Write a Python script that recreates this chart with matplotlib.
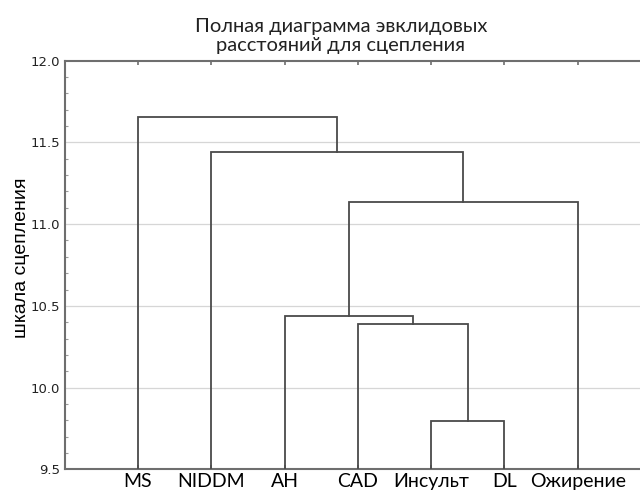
"""Dendrogram: complete linkage, Euclidean distances (reproduction)."""

import matplotlib

matplotlib.use("Agg")
import matplotlib.pyplot as plt
import numpy as np

LEAVES = ["MS", "NIDDM", "AH", "CAD", "Инсульт", "DL", "Ожирение"]
# merges in scipy-style: (left id, right id, height); ids >= len(LEAVES) are clusters
MERGE_LEFT = [4, 3, 2, 9, 1, 0]
MERGE_RIGHT = [5, 7, 8, 6, 10, 11]
MERGE_HEIGHT = [9.797, 10.391, 10.439, 11.135, 11.443, 11.657]
Y_TICKS = [9.5, 10.0, 10.5, 11.0, 11.5, 12.0]

TITLE = "Полная диаграмма эвклидовых\nрасстояний для сцепления"
Y_LABEL = "шкала сцепления"

LINE_COLOR = "#4a4a4a"
FRAME_COLOR = "#6e6e6e"
GRID_COLOR = "#d6d6d6"

fig = plt.figure(figsize=(6.4, 4.92), dpi=100)
ax = fig.add_axes([64.7 / 640, 22.7 / 492, 586.4 / 640, 408.6 / 492])

# x and y of every node: leaves sit at 1..n on the baseline
node_x = {i: float(i + 1) for i in range(len(LEAVES))}
node_y = {i: Y_TICKS[0] for i in range(len(LEAVES))}
for k, (a, b, h) in enumerate(zip(MERGE_LEFT, MERGE_RIGHT, MERGE_HEIGHT)):
    xa, xb = node_x[a], node_x[b]
    ya, yb = node_y[a], node_y[b]
    ax.plot([xa, xa, xb, xb], [ya, h, h, yb], color=LINE_COLOR, lw=1.3,
            solid_joinstyle="miter", zorder=3)
    cid = len(LEAVES) + k
    node_x[cid] = (xa + xb) / 2
    node_y[cid] = h

for y in Y_TICKS[1:-1]:
    ax.axhline(y, color=GRID_COLOR, lw=0.9, zorder=1)

ax.set_xlim(0, 8)
ax.set_ylim(Y_TICKS[0], Y_TICKS[-1])

ax.set_xticks(np.arange(1, len(LEAVES) + 1))
ax.set_xticklabels(LEAVES, fontsize=14, family="Lato")
ax.set_yticks(Y_TICKS)
ax.set_yticklabels([f"{v:.1f}" for v in Y_TICKS], fontsize=9.5, family="DejaVu Sans",
                   color="#222222")
ax.set_yticks(np.arange(9.6, 12.0, 0.1), minor=True)
ax.tick_params(axis="x", direction="in", top=True, bottom=True, length=3,
               width=1.2, color=FRAME_COLOR, pad=3)
ax.tick_params(axis="y", which="major", direction="in", length=0, pad=3.5)
ax.tick_params(axis="y", which="minor", direction="in", length=2, width=0.8,
               color="#9a9a9a")

for side in ax.spines.values():
    side.set_color(FRAME_COLOR)
    side.set_linewidth(1.5)

ax.set_ylabel(Y_LABEL, fontsize=14, family="Liberation Sans")
ax.yaxis.set_label_coords(-0.059, 0.517)

fig.text(341 / 640, 1 - 36 / 492, TITLE, ha="center", va="center", fontsize=14.5,
         family="Lato", linespacing=1.1, color="#222222")

fig.savefig("out.png", dpi=100)
